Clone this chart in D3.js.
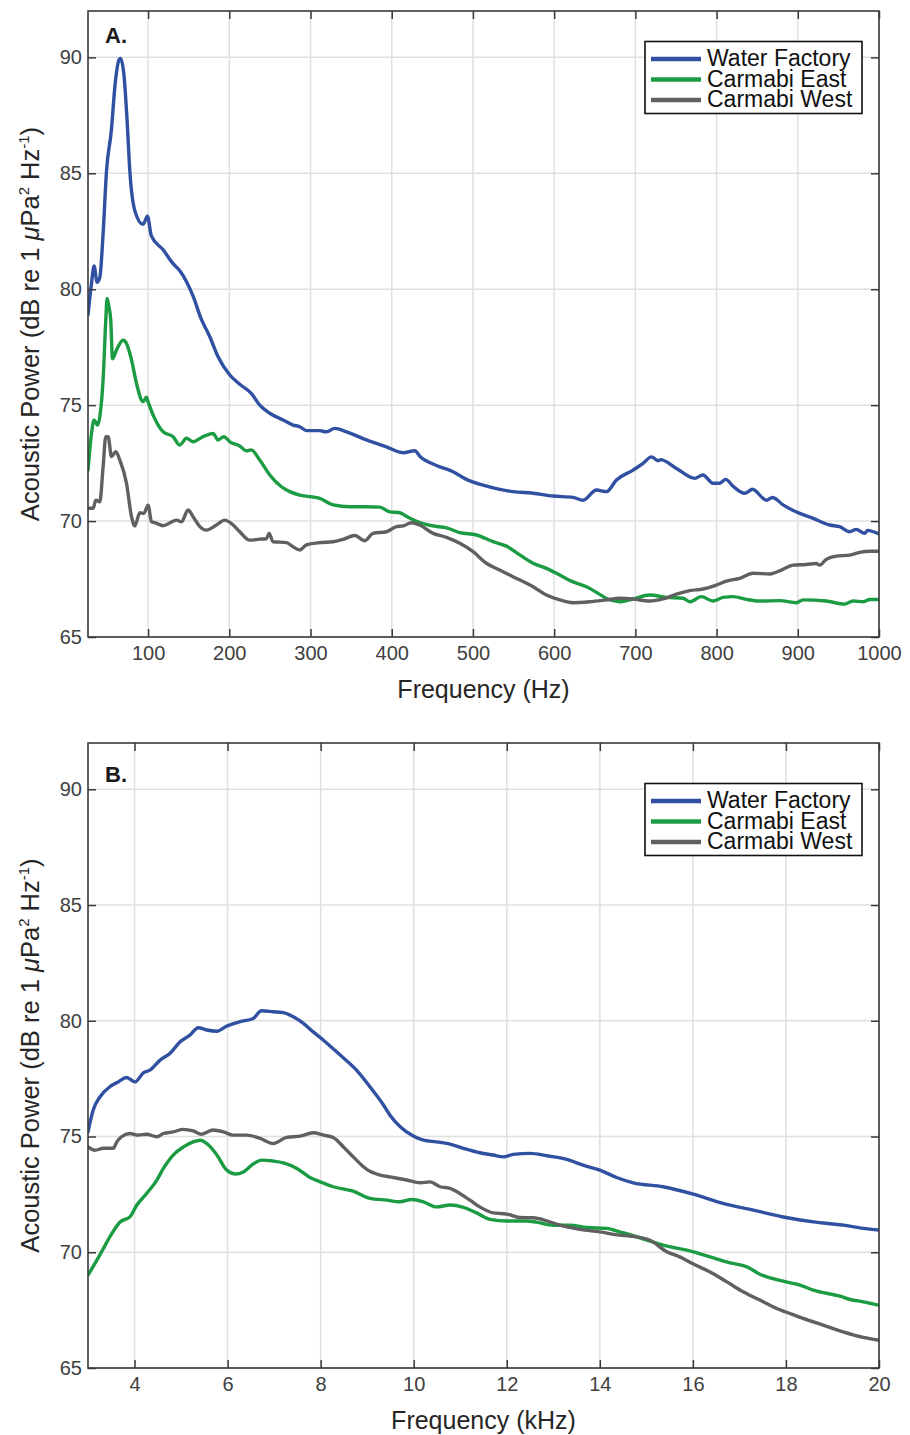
<!DOCTYPE html>
<meta charset="utf-8">
<style>
    body { margin: 0; background: #fff; }
    svg { font-family: "Liberation Sans", Arial, Helvetica, sans-serif; }
    .tick text { fill: #404040; font-size: 20px; }
    .axis path { display: none; }
    .axis line { stroke: #3a3a3a; stroke-width: 1.5; }
    .grid line { stroke: #e0e0e0; stroke-width: 1.5; }
    .series { fill: none; stroke-width: 3.4; stroke-linejoin: round; stroke-linecap: round; }
</style>
<body>
<script src="https://cdn.jsdelivr.net/npm/d3@7"></script>
<script>

    // ---- data ----
    var seriesNames = ["Water Factory", "Carmabi East", "Carmabi West"];
    var seriesColors = ["#3050a2", "#1c9c42", "#606060"];

    var yTicks = [65, 70, 75, 80, 85, 90];
    var xTicksA = [100, 200, 300, 400, 500, 600, 700, 800, 900, 1000];
    var xTicksB = [4, 6, 8, 10, 12, 14, 16, 18, 20];

    // panel A: frequency (Hz), power (dB)
    var waterFactoryA = [[26,78.9],[30.3,80.25],[33.5,81.0],[37.2,80.3],[40.5,80.5],[44.6,82.4],[48.8,85.1],[54.9,86.9],[59,88.7],[64.3,89.9],[66,89.95],[70.1,89.3],[74.1,87.3],[77.5,85.1],[83.6,83.4],[93.8,82.8],[99.2,83.15],[104,82.3],[118.5,81.7],[130.8,81.1],[139,80.8],[155.4,79.7],[165,78.75],[176,77.95],[186,77.1],[200.6,76.3],[212.9,75.9],[227.3,75.5],[237.5,75.0],[249.8,74.65],[266.2,74.36],[278.5,74.14],[286.8,74.07],[295,73.9],[311.4,73.9],[319.6,73.85],[329.9,74.0],[344.3,73.85],[368.9,73.5],[393.5,73.2],[414,72.95],[428.4,73.03],[434.5,72.8],[455,72.4],[475.5,72.13],[492,71.8],[512.5,71.55],[533,71.37],[549.4,71.27],[574,71.2],[598.6,71.08],[623.3,71.02],[635.6,70.9],[652,71.34],[664.4,71.27],[676.7,71.77],[697.2,72.2],[709.5,72.49],[719.8,72.77],[728,72.6],[731,72.65],[750.6,72.27],[773.1,71.84],[783.3,71.99],[795.6,71.63],[803.8,71.63],[811.3,71.8],[820.3,71.5],[834.7,71.2],[844.2,71.37],[861.4,70.9],[868.8,71.02],[881.8,70.7],[902.4,70.33],[918.8,70.12],[939.3,69.83],[951.6,69.76],[963.9,69.54],[972,69.64],[982.4,69.47],[986,69.6],[1000,69.44]];
    var carmabiEastA = [[26,72.2],[30.3,73.78],[33.5,74.36],[37.7,74.14],[40.5,74.5],[44.6,76.1],[47.9,78.67],[49.5,79.6],[51.5,79.3],[54,78.67],[56.2,77.0],[61,77.37],[69.2,77.8],[73.4,77.66],[79.6,76.95],[85.7,75.94],[93.8,75.15],[98,75.34],[99.9,75.15],[106.2,74.57],[118.5,73.85],[130.8,73.64],[139,73.28],[147.3,73.57],[155.4,73.42],[167.7,73.64],[180,73.78],[186.2,73.5],[193.2,73.64],[200.6,73.42],[212.9,73.24],[221.2,73.03],[227,73.07],[237.5,72.63],[249.8,71.99],[264.2,71.48],[274.5,71.27],[286.8,71.12],[311.4,70.98],[327.8,70.7],[348.4,70.62],[368.9,70.62],[385,70.6],[397.6,70.4],[410,70.36],[420.1,70.16],[434.5,69.93],[450.9,69.79],[467.4,69.71],[483.8,69.5],[504.3,69.4],[524.8,69.11],[541.3,68.92],[557.7,68.54],[574,68.18],[590.5,67.96],[606.9,67.67],[623.3,67.38],[639.8,67.17],[656.2,66.84],[664,66.67],[680.7,66.52],[697,66.64],[717.7,66.81],[738.2,66.71],[758.7,66.67],[767,66.52],[781.4,66.74],[795.6,66.55],[807.9,66.71],[820.3,66.74],[836.7,66.62],[853,66.55],[877.8,66.57],[898.3,66.48],[906.5,66.6],[935,66.55],[957.8,66.42],[968,66.55],[980.7,66.52],[988.9,66.62],[1000,66.62]];
    var carmabiWestA = [[26,70.55],[32.3,70.55],[35.6,70.9],[40.5,70.83],[44.6,72.34],[47.9,73.64],[50.8,73.64],[54.9,72.78],[60.2,72.99],[65.2,72.63],[73.4,71.63],[79.6,70.19],[83.6,69.79],[89.8,70.36],[94.7,70.33],[100,70.69],[104.2,69.97],[108.3,69.93],[118.5,69.8],[135,70.04],[141.2,69.97],[149.2,70.48],[155.4,70.19],[163.7,69.76],[171.9,69.61],[184.2,69.83],[194.4,70.04],[204.7,69.83],[212.9,69.54],[225.2,69.18],[237.5,69.22],[245.7,69.24],[249,69.47],[253.9,69.11],[270.3,69.07],[278.5,68.89],[286.8,68.75],[295,68.97],[311.4,69.07],[327.8,69.11],[340.1,69.21],[354.5,69.38],[366.8,69.15],[377,69.47],[393.5,69.54],[405.8,69.76],[414,69.79],[424.3,69.93],[434.5,69.83],[450.9,69.47],[467.4,69.3],[483.8,69.04],[500.2,68.68],[516.6,68.18],[533,67.89],[549.4,67.6],[574,67.17],[590.5,66.81],[606.9,66.6],[623.3,66.48],[643.8,66.52],[664.4,66.6],[680.7,66.67],[697.2,66.64],[717.7,66.55],[734,66.64],[750.6,66.85],[767,67.0],[783.3,67.07],[799.8,67.24],[812.1,67.41],[828.5,67.53],[844.9,67.75],[865.4,67.72],[881.8,67.92],[894.1,68.1],[910.5,68.13],[922.8,68.17],[926.9,68.1],[935.1,68.35],[947.4,68.49],[963.9,68.53],[976.2,68.65],[988.5,68.7],[1000,68.7]];

    // panel B: frequency (kHz), power (dB)
    var waterFactoryB = [[3.0,75.2],[3.11,76.14],[3.26,76.72],[3.47,77.15],[3.65,77.36],[3.83,77.55],[4.01,77.36],[4.19,77.75],[4.33,77.87],[4.55,78.3],[4.76,78.59],[4.98,79.09],[5.19,79.38],[5.37,79.7],[5.55,79.6],[5.77,79.55],[5.98,79.77],[6.27,79.96],[6.55,80.1],[6.73,80.43],[6.98,80.39],[7.2,80.35],[7.41,80.17],[7.63,79.89],[7.84,79.52],[8.06,79.16],[8.42,78.52],[8.77,77.87],[9.06,77.15],[9.35,76.36],[9.49,75.92],[9.71,75.42],[9.99,75.02],[10.21,74.84],[10.49,74.77],[10.78,74.67],[11.07,74.49],[11.42,74.3],[11.71,74.2],[11.93,74.12],[12.14,74.23],[12.5,74.27],[12.86,74.17],[13.29,74.01],[13.64,73.76],[14.0,73.55],[14.36,73.23],[14.72,73.0],[15.36,72.83],[16.01,72.51],[16.65,72.11],[17.3,71.82],[18.0,71.5],[18.59,71.31],[19.23,71.17],[19.66,71.03],[20.0,70.96]];
    var carmabiEastB = [[3.0,69.01],[3.15,69.52],[3.33,70.16],[3.47,70.67],[3.69,71.31],[3.9,71.53],[4.05,72.04],[4.26,72.54],[4.48,73.12],[4.62,73.62],[4.83,74.2],[5.05,74.55],[5.26,74.77],[5.41,74.84],[5.59,74.63],[5.77,74.2],[5.98,73.55],[6.16,73.38],[6.34,73.47],[6.55,73.81],[6.73,73.98],[6.98,73.94],[7.2,73.86],[7.49,73.62],[7.77,73.23],[7.99,73.04],[8.27,72.83],[8.7,72.64],[9.06,72.33],[9.42,72.25],[9.69,72.18],[9.96,72.28],[10.21,72.18],[10.49,71.96],[10.78,72.04],[11.07,71.94],[11.35,71.7],[11.64,71.42],[12.0,71.35],[12.43,71.35],[12.64,71.3],[13.0,71.17],[13.36,71.17],[13.72,71.07],[14.15,71.03],[14.43,70.88],[14.72,70.72],[15.01,70.52],[15.36,70.31],[16.01,70.02],[16.37,69.8],[16.8,69.54],[17.16,69.37],[17.44,69.05],[18.0,68.72],[18.3,68.58],[18.59,68.36],[19.16,68.1],[19.38,67.96],[19.66,67.86],[20.0,67.71]];
    var carmabiWestB = [[3.0,74.55],[3.15,74.41],[3.33,74.49],[3.54,74.49],[3.62,74.77],[3.72,74.99],[3.9,75.13],[4.08,75.06],[4.26,75.1],[4.48,74.99],[4.62,75.13],[4.83,75.2],[5.05,75.31],[5.26,75.24],[5.44,75.1],[5.69,75.28],[5.91,75.2],[6.12,75.06],[6.41,75.06],[6.7,74.92],[6.98,74.7],[7.27,74.96],[7.56,75.02],[7.84,75.16],[8.06,75.06],[8.27,74.96],[8.49,74.55],[8.7,74.12],[8.99,73.58],[9.28,73.33],[9.56,73.23],[9.85,73.12],[10.14,73.0],[10.35,73.04],[10.57,72.83],[10.78,72.76],[10.99,72.54],[11.21,72.25],[11.42,71.96],[11.71,71.7],[12.0,71.65],[12.28,71.5],[12.57,71.49],[12.86,71.36],[13.14,71.17],[13.57,70.99],[14.0,70.88],[14.43,70.74],[14.65,70.7],[15.08,70.52],[15.44,70.02],[15.72,69.8],[16.01,69.49],[16.37,69.15],[16.73,68.72],[17.08,68.29],[17.51,67.86],[17.8,67.57],[18.0,67.42],[18.37,67.14],[18.8,66.85],[19.23,66.56],[19.66,66.32],[20.0,66.2]];

    // ---- layout ----
    var left = 88, right = 879, plotW = right - left;
    var yDomain = [65, 92];

    var panels = [
        { id: "A", top: 11, height: 626, xDomain: [26, 1000], xTicks: xTicksA,
          xTitle: "Frequency (Hz)", label: "A.", labelY: 31.5, legendY: 30.5,
          series: [waterFactoryA, carmabiEastA, carmabiWestA] },
        { id: "B", top: 743, height: 625, xDomain: [3, 20], xTicks: xTicksB,
          xTitle: "Frequency (kHz)", label: "B.", labelY: 38.5, legendY: 40.5,
          series: [waterFactoryB, carmabiEastB, carmabiWestB] }
    ];

    var svg = d3.select("body").append("svg")
            .attr("width", 910)
            .attr("height", 1435);

    panels.forEach(drawPanel);

    function drawPanel(p) {
        var x = d3.scaleLinear().domain(p.xDomain).range([0, plotW]);
        var y = d3.scaleLinear().domain(yDomain).range([p.height, 0]);

        var g = svg.append("g")
                .attr("transform", "translate(" + left + "," + p.top + ")");

        svg.append("defs").append("clipPath")
                .attr("id", "clip" + p.id)
                .append("rect")
                .attr("width", plotW)
                .attr("height", p.height);

        // grid
        var grid = g.append("g").attr("class", "grid");
        grid.selectAll("line.v").data(p.xTicks).enter().append("line")
                .attr("class", "v")
                .attr("x1", function(d) { return x(d); })
                .attr("x2", function(d) { return x(d); })
                .attr("y1", 0).attr("y2", p.height);
        grid.selectAll("line.h").data(yTicks).enter().append("line")
                .attr("class", "h")
                .attr("y1", function(d) { return y(d); })
                .attr("y2", function(d) { return y(d); })
                .attr("x1", 0).attr("x2", plotW);

        // series
        var line = d3.line()
                .curve(d3.curveMonotoneX)
                .x(function(d) { return x(d[0]); })
                .y(function(d) { return y(d[1]); });

        g.append("g")
                .attr("clip-path", "url(#clip" + p.id + ")")
                .selectAll("path")
                .data(p.series)
                .enter().append("path")
                .attr("class", "series")
                .attr("stroke", function(d, i) { return seriesColors[i]; })
                .attr("d", line);

        // axes, ticks pointing inward
        g.append("g").attr("class", "axis")
                .attr("transform", "translate(0," + p.height + ")")
                .call(d3.axisBottom(x).tickValues(p.xTicks).tickFormat(d3.format("d"))
                        .tickSize(-8).tickSizeOuter(0).tickPadding(9));
        g.append("g").attr("class", "axis")
                .call(d3.axisTop(x).tickValues(p.xTicks).tickSize(-8).tickSizeOuter(0).tickFormat(""));
        g.append("g").attr("class", "axis")
                .call(d3.axisLeft(y).tickValues(yTicks).tickSize(-8).tickSizeOuter(0).tickPadding(6));
        g.append("g").attr("class", "axis")
                .attr("transform", "translate(" + plotW + ",0)")
                .call(d3.axisRight(y).tickValues(yTicks).tickSize(-8).tickSizeOuter(0).tickFormat(""));

        g.append("rect")
                .attr("width", plotW)
                .attr("height", p.height)
                .attr("fill", "none")
                .attr("stroke", "#3a3a3a")
                .attr("stroke-width", 1.6);

        // panel label
        g.append("text")
                .attr("x", 17)
                .attr("y", p.labelY)
                .style("font-size", "22px")
                .style("font-weight", "bold")
                .attr("fill", "#1a1a1a")
                .text(p.label);

        // axis titles
        g.append("text")
                .attr("x", plotW / 2)
                .attr("y", p.height + 61)
                .attr("text-anchor", "middle")
                .style("font-size", "25px")
                .attr("fill", "#262626")
                .text(p.xTitle);

        var yt = g.append("text")
                .attr("transform", "translate(" + (39 - left) + "," + (p.height / 2) + ") rotate(-90)")
                .attr("text-anchor", "middle")
                .style("font-size", "25.5px")
                .attr("fill", "#262626");
        yt.append("tspan").text("Acoustic Power (dB re 1 ");
        yt.append("tspan").style("font-style", "italic").text("\u03bc");
        yt.append("tspan").text("Pa");
        yt.append("tspan").attr("dy", -10).style("font-size", "15px").text("2");
        yt.append("tspan").attr("dy", 10).text(" Hz");
        yt.append("tspan").attr("dy", -10).style("font-size", "15px").text("-1");
        yt.append("tspan").attr("dy", 10).text(")");

        // legend
        var lg = g.append("g")
                .attr("transform", "translate(" + (645 - left) + "," + p.legendY + ")");
        lg.append("rect")
                .attr("width", 217)
                .attr("height", 72)
                .attr("fill", "#fff")
                .attr("stroke", "#111")
                .attr("stroke-width", 1.6);
        var row = lg.selectAll("g.row").data(seriesNames).enter().append("g")
                .attr("class", "row")
                .attr("transform", function(d, i) { return "translate(0," + (17.5 + i * 20.5) + ")"; });
        row.append("line")
                .attr("x1", 6).attr("x2", 56)
                .attr("stroke-width", 4.5)
                .attr("stroke", function(d, i) { return seriesColors[i]; });
        row.append("text")
                .attr("x", 62)
                .attr("y", 7)
                .style("font-size", "23px")
                .attr("fill", "#111")
                .text(function(d) { return d; });
    }

</script>
